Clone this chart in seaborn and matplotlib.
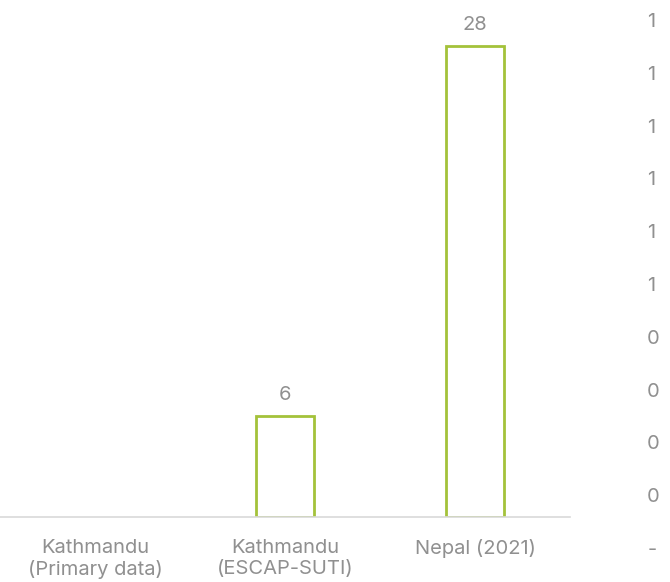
import numpy as np
import pandas as pd
import matplotlib
matplotlib.use("Agg")
import matplotlib.pyplot as plt
import matplotlib.ticker as mticker
import seaborn as sns
from decimal import Decimal, ROUND_HALF_UP

# Chart data
categories = ["Kathmandu\n(Primary data)", "Kathmandu\n(ESCAP-SUTI)", "Nepal (2021)"]
values = [np.nan, 6, 28]
secondary_ticks = [0.0, 0.1, 0.2, 0.3, 0.4, 0.5, 0.6, 0.7, 0.8, 0.9, 1.0]

sns.set_theme(style="white")
plt.rcParams["font.family"] = ["Inter", "DejaVu Sans"]

TEXT = "#909090"
BAR = "#a4c23a"
AXIS = "#d9d9d9"
FS = 14.5

W, H = 670, 582
fig = plt.figure(figsize=(W / 100, H / 100), dpi=100)

# Primary axes: baseline at y=517 px, from x=0 to x=570 px
ax = fig.add_axes([0, 1 - 517 / H, 570 / W, (517 - 12.5) / H])
df = pd.DataFrame({"cat": categories, "val": values})
sns.barplot(data=df, x="cat", y="val", order=categories, ax=ax,
            fill=False, color=BAR, linewidth=2, width=0.31, errorbar=None)
ax.set_xlim(-0.5, 2.5)
ax.set_ylim(0, 30)
ax.set_xlabel("")
ax.set_ylabel("")
ax.set_yticks([])
for s in ["top", "right", "left"]:
    ax.spines[s].set_visible(False)
ax.spines["bottom"].set_color(AXIS)
ax.spines["bottom"].set_linewidth(1.2)
ax.tick_params(axis="x", length=0, pad=16, labelsize=FS, labelcolor=TEXT)
for lab in ax.get_xticklabels():
    lab.set_verticalalignment("top")
    lab.set_linespacing(1.2)

for i, v in enumerate(values):
    if not np.isnan(v):
        ax.annotate(f"{v:g}", (i, v), xytext=(0, 9), textcoords="offset points",
                    ha="center", va="bottom", fontsize=FS, color=TEXT)


def accounting(y, _):
    """Whole-number accounting format: zero shown as a dash, halves round up."""
    if abs(y) < 1e-9:
        return "-"
    return str(int(Decimal(str(round(y, 6))).quantize(Decimal("1"), rounding=ROUND_HALF_UP)))


# Secondary value axis on the right
ax2 = fig.add_axes([0, 1 - 548 / H, 643 / W, (548 - 20) / H])
ax2.patch.set_visible(False)
ax2.set_xticks([])
for s in ax2.spines.values():
    s.set_visible(False)
ax2.set_ylim(0, 1.0)
ax2.set_yticks(secondary_ticks)
ax2.yaxis.tick_right()
ax2.yaxis.set_major_formatter(mticker.FuncFormatter(accounting))
ax2.tick_params(axis="y", length=0, pad=3, labelsize=FS, labelcolor=TEXT)

fig.savefig("out.png", dpi=100)
